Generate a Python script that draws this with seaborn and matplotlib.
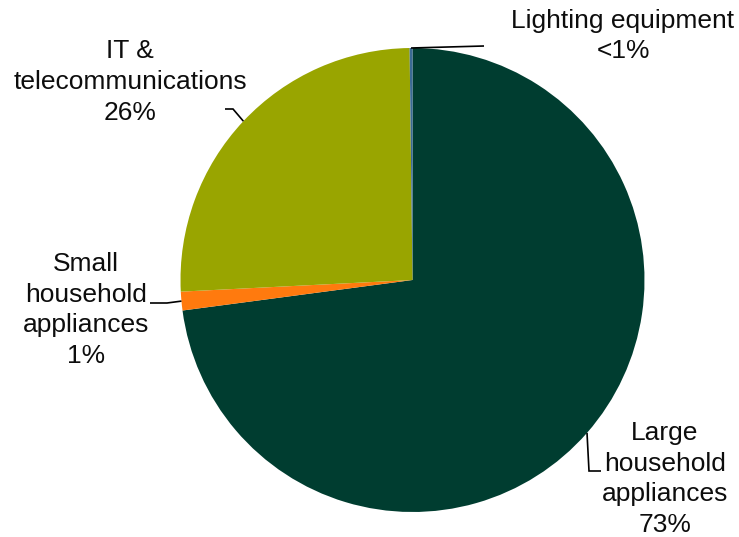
import numpy as np
import matplotlib
matplotlib.use("Agg")
import matplotlib.pyplot as plt
import seaborn as sns

# Share of collected WEEE by category
categories = ["Large\nhousehold\nappliances", "Small\nhousehold\nappliances",
              "IT &\ntelecommunications", "Lighting equipment"]
shares = [72.9, 1.3, 25.6, 0.2]
share_labels = ["73%", "1%", "26%", "<1%"]
colors = ["#003D30", "#FF7A0E", "#99A500", "#3A6A94"]

sns.set_theme(style="white")
plt.rcParams["font.family"] = ["Liberation Sans", "DejaVu Sans"]

W, H = 739, 537
CX, CY, R = 412.5, 280.0, 232.0   # pie centre and radius in pixels


def px(x, y):
    """Pixel position (from top-left) to data units of the pie axes."""
    return (x - CX) / R, (CY - y) / R


fig = plt.figure(figsize=(W / 100, H / 100), dpi=100)
ax = fig.add_axes([0, 0, 1, 1])

wedges, _ = ax.pie(shares, colors=colors, startangle=90, counterclock=False,
                   radius=1.0, center=(0, 0), frame=True,
                   wedgeprops=dict(linewidth=0))
ax.set_xlim(-CX / R, (W - CX) / R)
ax.set_ylim(-(H - CY) / R, CY / R)
ax.axis("off")

# label centres and leader-line elbows (pixels)
label_pos = [(665, 479), (86, 310), (130, 82), (623, 36)]
leader_path = [
    [(589, 471), (601, 471)],
    [(167, 303), (150, 303)],
    [(233, 109), (225, 109)],
    [(484, 46)],
]

for w, cat, lab, pos, path in zip(wedges, categories, share_labels,
                                  label_pos, leader_path):
    mid = np.deg2rad((w.theta1 + w.theta2) / 2)
    pts = [(np.cos(mid), np.sin(mid))] + [px(*p) for p in path]
    xs, ys = zip(*pts)
    ax.plot(xs, ys, color="#000000", lw=1.2, solid_capstyle="butt",
            solid_joinstyle="miter")
    tx, ty = px(*pos)
    ax.text(tx, ty, f"{cat}\n{lab}", ha="center", va="center",
            fontsize=19, color="#0d0d0d", linespacing=1.36)

fig.savefig("out.png", dpi=100)
